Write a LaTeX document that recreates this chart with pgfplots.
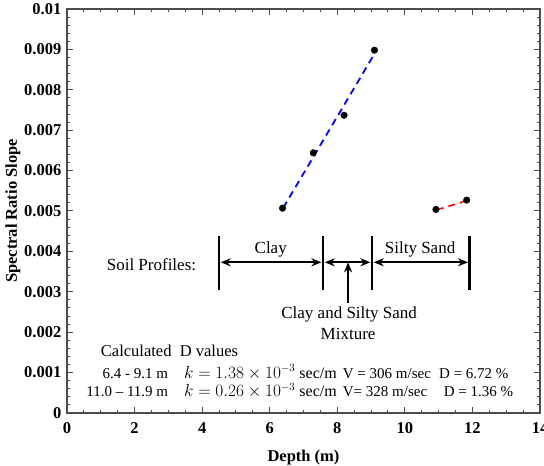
\documentclass[border=0pt]{standalone}
\usepackage{pgfplots}
\pgfplotsset{compat=1.18}
\usepackage{fontspec}
\setmainfont{Liberation Serif}
\usetikzlibrary{arrows.meta}
\begin{document}
\fontsize{16.5}{19}\selectfont
\begin{tikzpicture}
\begin{axis}[
 at={(0,0)}, anchor=south west,
 scale only axis, width=473pt, height=404pt,
 xmin=0, xmax=14, ymin=0, ymax=0.01,
 xtick={0,2,4,6,8,10,12,14}, minor x tick num=3,
 ytick={0,0.001,0.002,0.003,0.004,0.005,0.006,0.007,0.008,0.009,0.01}, minor y tick num=4,
 tick align=inside, major tick length=6pt, minor tick length=3pt,
 axis line style={black!70, line width=1.2pt},
 every tick/.style={black!70, line width=1pt},
 scaled y ticks=false,
 yticklabel style={/pgf/number format/fixed, /pgf/number format/precision=3},
 xticklabel style={yshift=-4pt},
 ticklabel style={font=\fontsize{16.5}{19}\selectfont\bfseries},
 /pgf/number format/assume math mode=true,
 xlabel={Depth (m)}, ylabel={Spectral Ratio Slope},
 label style={font=\fontsize{16.5}{19}\selectfont\bfseries},
 xlabel style={yshift=-5pt},
 ylabel style={at={(axis description cs:-0.1142,0.5)}, anchor=center},
 clip=false,
]
\addplot[blue, line width=1.8pt, dash pattern=on 7pt off 5pt] coordinates {(6.4,0.00508) (9.05,0.00882)};
\addplot[red, line width=1.6pt, dash pattern=on 7pt off 5pt] coordinates {(10.95,0.00503) (11.85,0.00526)};
\addplot[only marks, mark=*, mark size=3.3pt, black] coordinates {(6.38,0.00507) (7.29,0.00644) (8.2,0.00737) (9.1,0.00898) (10.92,0.00504) (11.83,0.00527)};

% soil profile annotation
\draw[line width=2.6pt] (axis cs:4.5,0.00304) -- (axis cs:4.5,0.00438);
\draw[line width=2.6pt] (axis cs:7.58,0.00304) -- (axis cs:7.58,0.00438);
\draw[line width=2.6pt] (axis cs:9.03,0.00304) -- (axis cs:9.03,0.00438);
\draw[line width=2.6pt] (axis cs:11.92,0.00304) -- (axis cs:11.92,0.00438);
\draw[line width=2pt, {Stealth[length=10pt,width=8pt]}-{Stealth[length=10pt,width=8pt]}] (axis cs:4.55,0.00373) -- (axis cs:7.53,0.00373);
\draw[line width=2pt, {Stealth[length=10pt,width=8pt]}-{Stealth[length=10pt,width=8pt]}] (axis cs:7.63,0.00373) -- (axis cs:8.98,0.00373);
\draw[line width=2pt, {Stealth[length=10pt,width=8pt]}-{Stealth[length=10pt,width=8pt]}] (axis cs:9.08,0.00373) -- (axis cs:11.87,0.00373);
\draw[line width=2pt, -{Stealth[length=10pt,width=8pt]}] (axis cs:8.32,0.00272) -- (axis cs:8.32,0.00373);

\node[anchor=base, inner sep=0pt, font=\fontsize{17}{19}\selectfont] at (axis cs:6.03,0.00395) {Clay};
\node[anchor=base, inner sep=0pt, font=\fontsize{17}{19}\selectfont] at (axis cs:10.45,0.00395) {Silty Sand};
\node[anchor=base, inner sep=0pt, font=\fontsize{17}{19}\selectfont] at (axis cs:2.5,0.00352) {Soil Profiles:};
\node[anchor=base, inner sep=0pt, font=\fontsize{17}{19}\selectfont] at (axis cs:8.35,0.00234) {Clay and Silty Sand};
\node[anchor=base, inner sep=0pt, font=\fontsize{17}{19}\selectfont] at (axis cs:8.32,0.00183) {Mixture};

\node[anchor=base west, inner sep=0pt, font=\fontsize{16.5}{19}\selectfont] at (axis cs:1.0,0.00139) {Calculated\ \ D values};
\begin{scope}[every node/.style={inner sep=0pt, font=\fontsize{15}{17}\selectfont}]
\node[anchor=base east] at (axis cs:3.0,0.00086) {6.4 - 9.1 m};
\node[anchor=base west, font=\fontsize{16}{18}\selectfont] at (axis cs:3.46,0.00086) {$k = 1.38 \times 10^{-3}$ sec/m};
\node[anchor=base west] at (axis cs:8.16,0.00086) {V = 306 m/sec};
\node[anchor=base west] at (axis cs:11.01,0.00086) {D = 6.72 \%};
\node[anchor=base east] at (axis cs:3.0,0.00040) {11.0 – 11.9 m};
\node[anchor=base west, font=\fontsize{16}{18}\selectfont] at (axis cs:3.46,0.00040) {$k = 0.26 \times 10^{-3}$ sec/m};
\node[anchor=base west] at (axis cs:8.16,0.00040) {V= 328 m/sec};
\node[anchor=base west] at (axis cs:11.15,0.00040) {D = 1.36 \%};
\end{scope}
\end{axis}
\pgfresetboundingbox
\path (-67pt,-53pt) rectangle (477pt,413pt);
\end{tikzpicture}
\end{document}
